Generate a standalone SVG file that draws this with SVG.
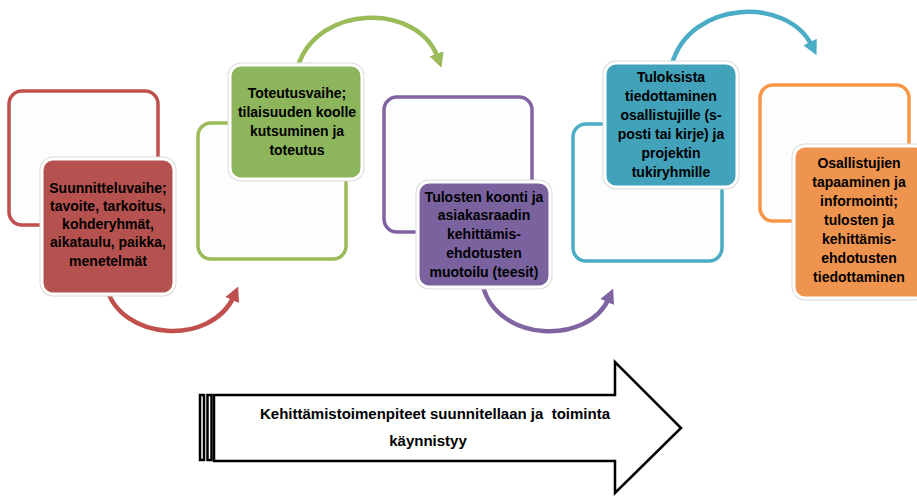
<svg xmlns="http://www.w3.org/2000/svg" width="917" height="496" viewBox="0 0 917 496">
  <defs>
    <style>
      .frame { fill: #fcfdfd; stroke-width: 3.5; }
      .card { stroke: #ffffff; stroke-width: 3; }
      .halo { fill: none; stroke: #d9d9d9; stroke-width: 5; }
      .lbl { font-family: "Liberation Sans", Arial, sans-serif; font-weight: bold; font-size: 14px; fill: #000; text-anchor: middle; }
      .flow { fill: none; stroke-width: 4.5; stroke-linecap: butt; }
      .big { fill: #ffffff; stroke: #000; stroke-width: 2.5; stroke-linejoin: miter; }
      .bigtxt { font-family: "Liberation Sans", Arial, sans-serif; font-weight: bold; font-size: 15px; fill: #000; text-anchor: middle; }
    </style>
    <marker id="mRed" viewBox="0 0 10 10" refX="3" refY="5" markerWidth="3.3" markerHeight="3.5" orient="auto" markerUnits="strokeWidth">
      <path d="M0,0 L10,5 L0,10 Z" fill="#c0504d"/>
    </marker>
    <marker id="mGreen" viewBox="0 0 10 10" refX="3" refY="5" markerWidth="3.3" markerHeight="3.5" orient="auto" markerUnits="strokeWidth">
      <path d="M0,0 L10,5 L0,10 Z" fill="#9bbb59"/>
    </marker>
    <marker id="mPurple" viewBox="0 0 10 10" refX="3" refY="5" markerWidth="3.3" markerHeight="3.5" orient="auto" markerUnits="strokeWidth">
      <path d="M0,0 L10,5 L0,10 Z" fill="#8064a2"/>
    </marker>
    <marker id="mTeal" viewBox="0 0 10 10" refX="3" refY="5" markerWidth="3.3" markerHeight="3.5" orient="auto" markerUnits="strokeWidth">
      <path d="M0,0 L10,5 L0,10 Z" fill="#4bacc6"/>
    </marker>
  </defs>

  <rect width="917" height="496" fill="#ffffff"/>

  <!-- curved connectors between the phases -->
  <g id="connectors">
    <path class="flow" stroke="#c0504d" d="M106,286 C120,342 212,346 234,296" marker-end="url(#mRed)"/>
    <path class="flow" stroke="#9bbb59" d="M298,66 C318,4 418,2 438,58" marker-end="url(#mGreen)"/>
    <path class="flow" stroke="#8064a2" d="M483,286 C497,342 588,346 609,298" marker-end="url(#mPurple)"/>
    <path class="flow" stroke="#4bacc6" d="M672,64 C690,0 788,-4 812,46" marker-end="url(#mTeal)"/>
  </g>

  <!-- phase 1 -->
  <g id="node-suunnittelu">
    <rect class="frame" stroke="#c0504d" x="9" y="91" width="149" height="134" rx="13"/>
    <rect class="halo" x="42" y="159" width="132" height="135" rx="11"/>
    <rect class="card" fill="#b5524f" x="42" y="159" width="132" height="135" rx="11"/>
    <text class="lbl" x="108" y="193">Suunnitteluvaihe;</text>
    <text class="lbl" x="108" y="211">tavoite, tarkoitus,</text>
    <text class="lbl" x="108" y="229">kohderyhmät,</text>
    <text class="lbl" x="108" y="247">aikataulu, paikka,</text>
    <text class="lbl" x="108" y="266">menetelmät</text>
  </g>

  <!-- phase 2 -->
  <g id="node-toteutus">
    <rect class="frame" stroke="#9bbb59" x="198" y="123" width="148" height="136" rx="13"/>
    <rect class="halo" x="230" y="65" width="132" height="114" rx="11"/>
    <rect class="card" fill="#8db55c" x="230" y="65" width="132" height="114" rx="11"/>
    <text class="lbl" x="297" y="98">Toteutusvaihe;</text>
    <text class="lbl" x="297" y="117">tilaisuuden koolle</text>
    <text class="lbl" x="297" y="136">kutsuminen ja</text>
    <text class="lbl" x="297" y="155">toteutus</text>
  </g>

  <!-- phase 3 -->
  <g id="node-tulosten-koonti">
    <rect class="frame" stroke="#8064a2" x="384" y="97" width="148" height="135" rx="13"/>
    <rect class="halo" x="418" y="182" width="132" height="105" rx="11"/>
    <rect class="card" fill="#7a629f" x="418" y="182" width="132" height="105" rx="11"/>
    <text class="lbl" x="484" y="202">Tulosten koonti ja</text>
    <text class="lbl" x="484" y="220">asiakasraadin</text>
    <text class="lbl" x="484" y="239">kehittämis-</text>
    <text class="lbl" x="484" y="258">ehdotusten</text>
    <text class="lbl" x="484" y="277">muotoilu (teesit)</text>
  </g>

  <!-- phase 4 -->
  <g id="node-tiedottaminen">
    <rect class="frame" stroke="#4bacc6" x="573" y="124" width="149" height="137" rx="13"/>
    <rect class="halo" x="605" y="63" width="132" height="124" rx="11"/>
    <rect class="card" fill="#41a2ba" x="605" y="63" width="132" height="124" rx="11"/>
    <text class="lbl" x="671" y="82">Tuloksista</text>
    <text class="lbl" x="671" y="101">tiedottaminen</text>
    <text class="lbl" x="671" y="120">osallistujille (s-</text>
    <text class="lbl" x="671" y="139">posti tai kirje) ja</text>
    <text class="lbl" x="671" y="158">projektin</text>
    <text class="lbl" x="671" y="177">tukiryhmille</text>
  </g>

  <!-- phase 5 -->
  <g id="node-tapaaminen">
    <rect class="frame" stroke="#f79646" x="760" y="85" width="149" height="136" rx="13"/>
    <rect class="halo" x="794" y="146" width="132" height="152" rx="11"/>
    <rect class="card" fill="#ef944f" x="794" y="146" width="132" height="152" rx="11"/>
    <text class="lbl" x="859" y="168">Osallistujien</text>
    <text class="lbl" x="859" y="187">tapaaminen ja</text>
    <text class="lbl" x="859" y="206">informointi;</text>
    <text class="lbl" x="859" y="225">tulosten ja</text>
    <text class="lbl" x="859" y="244">kehittämis-</text>
    <text class="lbl" x="859" y="263">ehdotusten</text>
    <text class="lbl" x="859" y="282">tiedottaminen</text>
  </g>

  <!-- big outline arrow along the bottom -->
  <g id="node-kehittamistoimenpiteet">
    <rect class="big" x="200" y="395" width="4" height="65"/>
    <rect class="big" x="207.5" y="395" width="4" height="65"/>
    <path class="big" d="M214,395 L615,395 L615,362 L681,428 L615,493 L615,461 L214,461 Z"/>
    <text class="bigtxt" x="435" y="419" xml:space="preserve">Kehittämistoimenpiteet suunnitellaan ja  toiminta</text>
    <text class="bigtxt" x="428" y="446">käynnistyy</text>
  </g>
</svg>
